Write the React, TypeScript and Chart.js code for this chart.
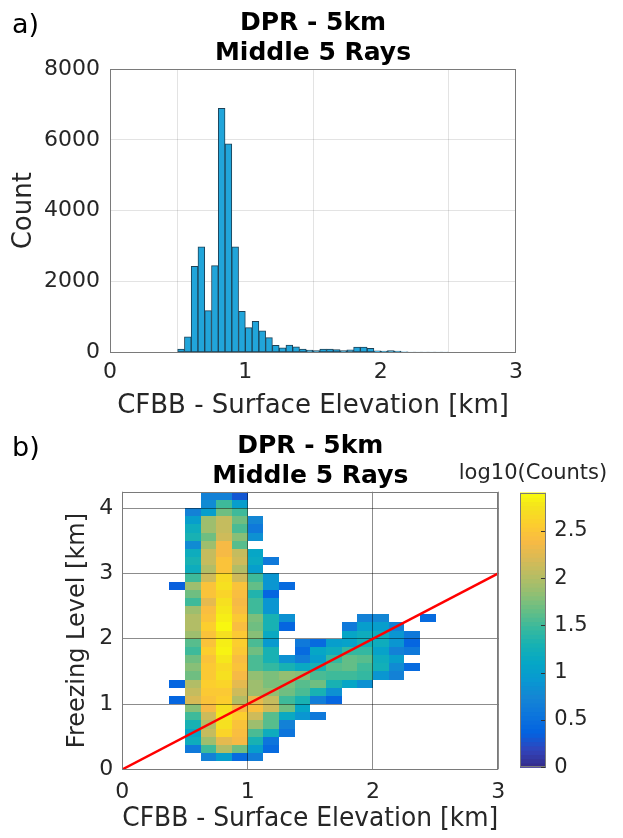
import React, { useEffect, useRef } from 'react';
import { Chart, registerables } from 'chart.js';

Chart.register(...registerables);

const N = null;
const FONT = '"DejaVu Sans", sans-serif';

// ---------- Panel a) histogram ----------
const histBinCenters = [
  0.525, 0.575, 0.625, 0.675, 0.725, 0.775, 0.825, 0.875, 0.925, 0.975,
  1.025, 1.075, 1.125, 1.175, 1.225, 1.275, 1.325, 1.375, 1.425, 1.475,
  1.525, 1.575, 1.625, 1.675, 1.725, 1.775, 1.825, 1.875, 1.925, 1.975,
  2.025, 2.075, 2.125, 2.175, 2.225, 2.275, 2.325, 2.375, 2.425, 2.475,
];
const histCounts = [
  100, 440, 2430, 2980, 1180, 2450, 6890, 5890, 2980, 1160,
  700, 880, 610, 420, 200, 130, 210, 160, 100, 65,
  55, 95, 95, 85, 55, 75, 150, 150, 120, 45,
  40, 55, 40, 20, 8, 5, 5, 3, 5, 8,
];
const histYTicks = [0, 2000, 4000, 6000, 8000];
const histXTicks = [0, 1, 2, 3];

// ---------- Panel b) 2-D histogram (log10 counts) ----------
const heatBinSize = 0.125;
const heatXBins = [0.375, 0.5, 0.625, 0.75, 0.875, 1.0, 1.125, 1.25, 1.375, 1.5, 1.625, 1.75, 1.875, 2.0, 2.125, 2.25, 2.375];
const heatFirstRow = [8, 2, 1, 1, 1, 1, 2, 4, 6, 6, 8, 10, 10, 11, 11, 12, 18];
const col0375 = [0.4, N, 0.4, N, N, N, N, N, N, N, N, N, N, N, 0.35];
const col0500 = [0.6, 1.2, 1.1, 1.3, 1.5, 1.8, 2.2, 2.1, 2.0, 1.7, 1.8, 1.7, 1.5, 1.6, 1.9, 2.0, 2.0, 1.9, 1.5, 1.7, 1.9, 1.5, 1.2, 1.3, 1.2, 0.8, 1.3, 1.2, 1.0, 0.7];
const col0625 = [0.7, 1.5, 1.9, 2.1, 2.0, 2.15, 2.38, 2.48, 2.53, 2.58, 2.53, 2.53, 2.48, 2.58, 2.48, 2.48, 2.58, 2.48, 2.43, 2.28, 2.48, 2.48, 2.15, 2.0, 2.1, 2.1, 1.9, 1.7, 1.9, 1.9, 1.0, 0.8, 0.7];
const col0750 = [1.0, 2.0, 2.28, 2.63, 2.73, 2.78, 2.73, 2.58, 2.53, 2.63, 2.73, 2.68, 2.78, 2.85, 2.82, 2.73, 2.88, 2.82, 2.78, 2.73, 2.63, 2.73, 2.68, 2.48, 2.48, 2.38, 2.38, 2.15, 2.1, 2.1, 1.7, 1.5, 0.7];
const col0875 = [0.45, 1.7, 2.38, 2.43, 2.48, 2.58, 2.38, 2.0, 2.15, 2.28, 2.38, 2.48, 2.43, 2.53, 2.58, 2.53, 2.43, 2.53, 2.43, 2.38, 2.43, 2.48, 2.15, 2.0, 2.15, 2.1, 1.6, 1.8, 1.55, 1.7, 1.5, 1.0, 0.3];
const col1000 = [0.65, 1.0, 1.3, 1.55, 1.9, 2.15, 2.45, 2.3, 1.9, 1.9, 1.85, 1.55, 1.55, 1.7, 1.55, 1.8, 1.7, 1.75, 1.5, 1.5, 1.35, 1.65, 1.5, 1.0, 1.15, 1.1, N, 0.85, 0.6, 0.75];
const col1125 = [0.45, 0.55, 1.2, 1.6, 1.6, 2.15, 2.1, 1.85, 1.75, 1.75, 1.45, 1.3, 1.3, 0.95, 1.15, 1.3, 1.3, 0.9, 0.9, 0.4, 0.9, 0.9, N, 0.6];
const col1250 = [0.55, 0.7, 1.15, 1.7, 1.5, 1.7, 1.75, 1.85, 1.3, 0.85, N, N, N, 0.4, 0.85, N, N, N, 0.45];
const col1375 = [0.9, 1.1, 1.3, 1.55, 1.6, 1.8, 1.15, 0.65, 0.45, 0.6];
const col1500 = [0.6, N, 0.65, 1.3, 1.7, 1.55, 1.3, 1.0, 1.1, 0.45];
const col1625 = [0.4, 0.85, 1.3, 1.5, 1.6, 1.45, 1.2, 1.0];
const col1750 = [1.1, 1.5, 1.65, 1.65, 1.45, 1.05, 1.1, 0.6];
const col1875 = [0.85, 1.45, 1.5, 1.6, 1.45, 1.25, 1.2, 1.0, 0.7];
const col2000 = [0.9, 1.25, 1.2, 1.05, 1.2, 1.2, 1.0, 0.75];
const col2125 = [0.7, 0.8, 1.0, 0.7, 0.9, 0.9, 0.7];
const col2250 = [0.45, N, 0.6, 0.4, 0.6];
const col2375 = [0.45];
const heatColumns = [col0375, col0500, col0625, col0750, col0875, col1000, col1125, col1250, col1375, col1500, col1625, col1750, col1875, col2000, col2125, col2250, col2375];

const oneToOneLine = [{ x: 0, y: 0 }, { x: 3, y: 3 }];
const heatYTicks = [0, 1, 2, 3, 4];
const cbTicks = [0, 0.5, 1, 1.5, 2, 2.5];
const cbMin = -0.022;
const cbMax = 2.913;
const colorTop = 2.9;

// parula colormap stops (position, r, g, b)
const parulaStops: number[][] = [
  [0 / 63, 0.2081, 0.1663, 0.5292],
  [4 / 63, 0.1959, 0.2645, 0.7279],
  [8 / 63, 0.0117, 0.3875, 0.882],
  [12 / 63, 0.0498, 0.4586, 0.8641],
  [16 / 63, 0.0793, 0.52, 0.8312],
  [20 / 63, 0.0343, 0.5966, 0.8199],
  [24 / 63, 0.0228, 0.6535, 0.7768],
  [28 / 63, 0.0843, 0.6928, 0.7062],
  [32 / 63, 0.2178, 0.725, 0.6193],
  [36 / 63, 0.3953, 0.7459, 0.5244],
  [40 / 63, 0.5709, 0.7485, 0.4494],
  [44 / 63, 0.7184, 0.7411, 0.3905],
  [48 / 63, 0.8507, 0.7299, 0.336],
  [52 / 63, 0.9739, 0.7314, 0.2666],
  [56 / 63, 0.988, 0.8066, 0.1794],
  [60 / 63, 0.9589, 0.8949, 0.1132],
  [63 / 63, 0.9763, 0.9831, 0.0538],
];

function parula(t: number): string {
  const tt = Math.max(0, Math.min(1, t));
  let i = 0;
  while (i < parulaStops.length - 2 && tt > parulaStops[i + 1][0]) i++;
  const a = parulaStops[i];
  const b = parulaStops[i + 1];
  const u = (tt - a[0]) / (b[0] - a[0]);
  const c = [1, 2, 3].map((k) => Math.round(255 * (a[k] + (b[k] - a[k]) * u)));
  return `rgb(${c[0]},${c[1]},${c[2]})`;
}

const TICK_COLOR = '#262626';
const BOX_COLOR = '#7a7a7a';

function drawTitleBlock(chart: any, letter: string) {
  const { ctx, chartArea: ca } = chart;
  ctx.save();
  ctx.fillStyle = '#000';
  ctx.textBaseline = 'alphabetic';
  ctx.textAlign = 'left';
  ctx.font = `27px ${FONT}`;
  ctx.fillText(letter, 12, ca.top - 36);
  ctx.textAlign = 'center';
  ctx.font = `bold 25px ${FONT}`;
  const cx = (ca.left + ca.right) / 2;
  ctx.fillText('DPR - 5km', cx, ca.top - 39);
  ctx.fillText('Middle 5 Rays', cx, ca.top - 9);
  ctx.restore();
}

function drawBox(chart: any) {
  const { ctx, chartArea: ca } = chart;
  ctx.save();
  ctx.strokeStyle = BOX_COLOR;
  ctx.lineWidth = 1;
  ctx.strokeRect(Math.round(ca.left) + 0.5, Math.round(ca.top) + 0.5, Math.round(ca.right - ca.left) - 1, Math.round(ca.bottom - ca.top) - 1);
  ctx.restore();
}

const histPlugin = {
  id: 'histDecor',
  afterDraw(chart: any) {
    drawBox(chart);
    drawTitleBlock(chart, 'a)');
  },
};

const heatPlugin = {
  id: 'heatDecor',
  beforeDraw(chart: any) {
    const { ctx, chartArea: ca } = chart;
    const xs = chart.scales.x;
    const ys = chart.scales.y;
    ctx.save();
    ctx.beginPath();
    ctx.rect(ca.left, ca.top, ca.right - ca.left, ca.bottom - ca.top);
    ctx.clip();
    heatColumns.forEach((col, ci) => {
      const x0 = heatXBins[ci];
      const px0 = Math.round(xs.getPixelForValue(x0));
      const px1 = Math.round(xs.getPixelForValue(x0 + heatBinSize));
      col.forEach((v, k) => {
        if (v === null) return;
        const row = heatFirstRow[ci] + k;
        const pyb = Math.round(ys.getPixelForValue(row * heatBinSize));
        const pyt = Math.round(ys.getPixelForValue((row + 1) * heatBinSize));
        ctx.fillStyle = parula(v / colorTop);
        ctx.fillRect(px0, pyt, px1 - px0, pyb - pyt);
      });
    });
    ctx.restore();
  },
  afterDraw(chart: any) {
    const { ctx, chartArea: ca } = chart;
    drawBox(chart);
    drawTitleBlock(chart, 'b)');
    // colorbar
    const cb = chart.scales.cb;
    const x0 = Math.round(ca.right + 22);
    const x1 = Math.round(ca.right + 48);
    const yb = cb.getPixelForValue(0);
    const yt = cb.getPixelForValue(colorTop);
    const steps = 64;
    ctx.save();
    for (let s = 0; s < steps; s++) {
      const v0 = (colorTop * s) / steps;
      const v1 = (colorTop * (s + 1)) / steps;
      const p0 = cb.getPixelForValue(v0);
      const p1 = cb.getPixelForValue(v1);
      ctx.fillStyle = parula((v0 + v1) / 2 / colorTop);
      ctx.fillRect(x0, p1 - 0.5, x1 - x0, p0 - p1 + 1);
    }
    ctx.strokeStyle = BOX_COLOR;
    ctx.lineWidth = 1;
    ctx.strokeRect(x0 + 0.5, Math.round(yt) + 0.5, x1 - x0 - 1, Math.round(yb - yt) - 1);
    ctx.strokeStyle = '#333';
    cbTicks.forEach((v) => {
      const y = Math.round(cb.getPixelForValue(v)) + 0.5;
      ctx.beginPath();
      ctx.moveTo(x1 - 1, y);
      ctx.lineTo(x1 - 5, y);
      ctx.stroke();
    });
    ctx.fillStyle = TICK_COLOR;
    ctx.font = `21px ${FONT}`;
    ctx.textAlign = 'center';
    ctx.textBaseline = 'alphabetic';
    ctx.fillText('log10(Counts)', (x0 + x1) / 2, ca.top - 13);
    ctx.restore();
  },
};

export default function App() {
  const ref1 = useRef<HTMLCanvasElement>(null);
  const ref2 = useRef<HTMLCanvasElement>(null);

  useEffect(() => {
    Chart.defaults.font.family = FONT;
    const tickFont = { family: FONT, size: 22 };
    const labelFont = { family: FONT, size: 26 };

    const c1 = new Chart(ref1.current as HTMLCanvasElement, {
      type: 'bar',
      data: {
        datasets: [
          {
            data: histBinCenters.map((x, i) => ({ x, y: histCounts[i] })),
            backgroundColor: '#21a5da',
            borderColor: '#1d4257',
            borderWidth: 1,
            borderSkipped: false,
            barPercentage: 1,
            categoryPercentage: 1,
          } as any,
        ],
      },
      options: {
        animation: false,
        responsive: false,
        maintainAspectRatio: false,
        layout: { padding: { left: 0, top: 69, right: 107, bottom: 0 } },
        plugins: { legend: { display: false }, tooltip: { enabled: false }, title: { display: false } },
        scales: {
          x: {
            type: 'linear',
            min: 0,
            max: 3,
            offset: false,
            afterBuildTicks: (s: any) => { s.ticks = histXTicks.map((v) => ({ value: v })); },
            grid: { color: 'rgba(0,0,0,0.11)', drawTicks: false },
            border: { display: false },
            ticks: { padding: 7, font: tickFont, color: TICK_COLOR, maxRotation: 0, autoSkip: false, callback: (v: any) => String(v) },
            title: { display: true, text: 'CFBB - Surface Elevation [km]', font: labelFont, color: TICK_COLOR, padding: { top: 0, bottom: 8 } },
            afterFit: (s: any) => { s.height = 77.5; },
          },
          y: {
            min: 0,
            max: 8000,
            afterBuildTicks: (s: any) => { s.ticks = histYTicks.map((v) => ({ value: v })); },
            grid: { color: 'rgba(0,0,0,0.11)', drawTicks: false },
            border: { display: false },
            ticks: { padding: 10, font: tickFont, color: TICK_COLOR, callback: (v: any) => String(v) },
            title: { display: true, text: 'Count', font: labelFont, color: TICK_COLOR, padding: { top: 9, bottom: 0 } },
            afterFit: (s: any) => { s.width = 110; },
          },
        },
      } as any,
      plugins: [histPlugin],
    });

    const c2 = new Chart(ref2.current as HTMLCanvasElement, {
      type: 'scatter',
      data: {
        datasets: [
          {
            data: oneToOneLine,
            showLine: true,
            borderColor: '#ff0000',
            borderWidth: 2.5,
            pointRadius: 0,
            yAxisID: 'y',
          } as any,
        ],
      },
      options: {
        animation: false,
        responsive: false,
        maintainAspectRatio: false,
        layout: { padding: { left: 0, top: 81.7, right: 0, bottom: 0 } },
        plugins: { legend: { display: false }, tooltip: { enabled: false }, title: { display: false } },
        scales: {
          x: {
            type: 'linear',
            min: 0,
            max: 3,
            afterBuildTicks: (s: any) => { s.ticks = histXTicks.map((v) => ({ value: v })); },
            grid: { color: 'rgba(0,0,0,0.45)', drawTicks: false },
            border: { display: false },
            ticks: { padding: 10, font: tickFont, color: TICK_COLOR, maxRotation: 0, autoSkip: false, callback: (v: any) => String(v) },
            title: { display: true, text: 'CFBB - Surface Elevation [km]', font: labelFont, color: TICK_COLOR, padding: { top: 0, bottom: 1 } },
            afterFit: (s: any) => { s.height = 66.6; },
          },
          y: {
            type: 'linear',
            min: 0,
            max: 4.25,
            afterBuildTicks: (s: any) => { s.ticks = heatYTicks.map((v) => ({ value: v })); },
            grid: { color: 'rgba(0,0,0,0.45)', drawTicks: false },
            border: { display: false },
            ticks: { padding: 9, font: tickFont, color: TICK_COLOR, callback: (v: any) => String(v) },
            title: { display: true, text: 'Freezing Level [km]', font: { family: FONT, size: 24 }, color: TICK_COLOR, padding: { top: 63.6, bottom: 0 } },
            afterFit: (s: any) => { s.width = 122.3; },
          },
          cb: {
            type: 'linear',
            position: 'right',
            min: cbMin,
            max: cbMax,
            afterBuildTicks: (s: any) => { s.ticks = cbTicks.map((v) => ({ value: v })); },
            grid: { display: false, drawTicks: false },
            border: { display: false },
            ticks: { padding: 56, font: { family: FONT, size: 21 }, color: TICK_COLOR, callback: (v: any) => String(v) },
            afterFit: (s: any) => { s.width = 124.7; },
          },
        },
      } as any,
      plugins: [heatPlugin],
    });

    return () => {
      c1.destroy();
      c2.destroy();
    };
  }, []);

  return (
    <div style={{ position: 'absolute', left: 0, top: 0, width: 623, height: 838, background: '#ffffff', overflow: 'hidden' }}>
      <canvas ref={ref1} width={623} height={430} style={{ position: 'absolute', left: 0, top: 0, width: 623, height: 430 }} />
      <canvas ref={ref2} width={623} height={428} style={{ position: 'absolute', left: 0, top: 410, width: 623, height: 428 }} />
    </div>
  );
}
